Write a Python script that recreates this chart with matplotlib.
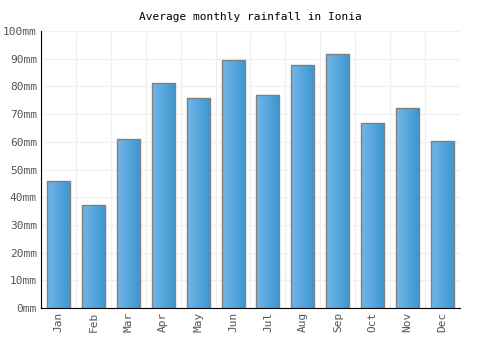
import numpy as np
import matplotlib
matplotlib.use('Agg')
import matplotlib.pyplot as plt

months = ['Jan', 'Feb', 'Mar', 'Apr', 'May', 'Jun', 'Jul', 'Aug', 'Sep', 'Oct', 'Nov', 'Dec']
rain = [45.8, 37.2, 61.0, 81.2, 75.8, 89.5, 76.9, 87.7, 91.7, 66.8, 72.2, 60.3]
yticks = [0, 10, 20, 30, 40, 50, 60, 70, 80, 90, 100]
ylabels = ['%dmm' % v for v in yticks]

plt.rcParams['font.family'] = ['DejaVu Sans Mono']

fig = plt.figure(figsize=(5, 3.5), dpi=100)
ax = fig.add_axes([41 / 500, 42 / 350, 419 / 500, 277 / 350])

x = np.arange(len(months))
bars = ax.bar(x, rain, width=0.66, color='none', edgecolor='#808080', linewidth=1.0, zorder=3)

# horizontal gradient inside each bar
grad = np.linspace(0, 1, 64).reshape(1, -1)
cmap = matplotlib.colors.LinearSegmentedColormap.from_list('g', ['#72b6e8', '#3a96cf'])
for b in bars:
    x0, w, h = b.get_x(), b.get_width(), b.get_height()
    im = ax.imshow(grad, cmap=cmap, aspect='auto', extent=[x0, x0 + w, 0, h], zorder=2)
    im.set_clip_path(b)

ax.set_xlim(-0.5, len(months) - 0.5)
ax.set_ylim(0, 100)
ax.set_xticks(x)
ax.set_xticklabels(months, rotation=90, fontsize=8, color='#555555')
ax.set_yticks(yticks)
ax.set_yticklabels(ylabels, fontsize=8, color='#555555')
ax.set_xticks(np.arange(-0.5, len(months)), minor=True)
ax.grid(True, axis='y', color='#f0f0f0', linewidth=1, zorder=0)
ax.grid(True, axis='x', which='minor', color='#f0f0f0', linewidth=1, zorder=0)
ax.tick_params(axis='both', which='both', length=0, pad=3)
for s in ['top', 'right']:
    ax.spines[s].set_visible(False)
ax.spines['left'].set_color('black')
ax.spines['bottom'].set_color('black')
ax.set_title('Average monthly rainfall in Ionia', fontsize=8, pad=8)

fig.savefig('out.png', dpi=100)
